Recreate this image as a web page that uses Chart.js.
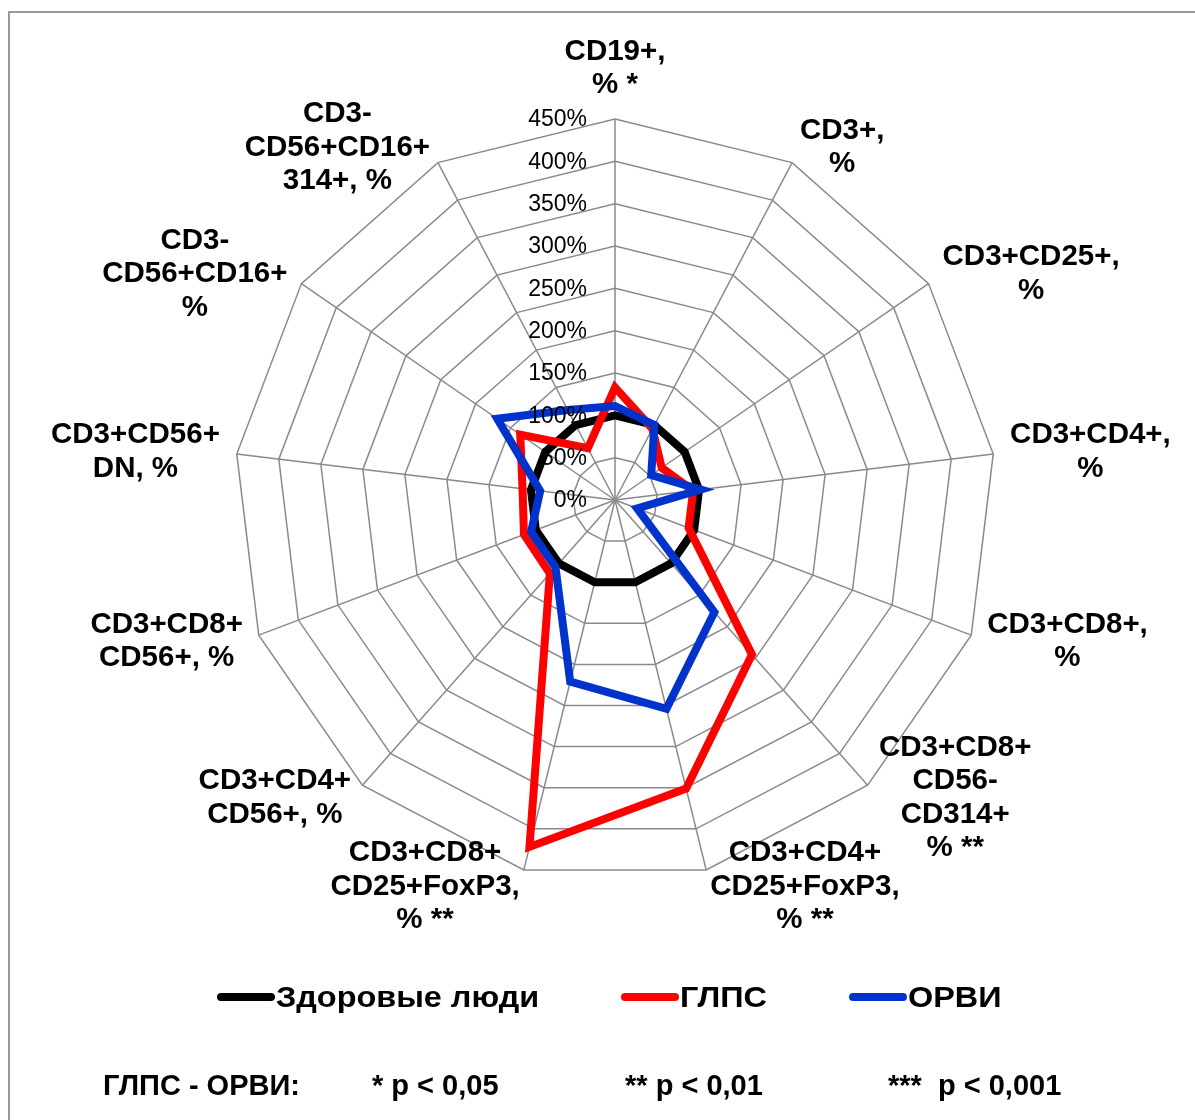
<!DOCTYPE html>
<html>
<head>
<meta charset="utf-8">
<script src="https://cdn.jsdelivr.net/npm/chart.js@4.4.1/dist/chart.umd.min.js"></script>
<style>
  html, body { margin: 0; padding: 0; background: #fff; }
  #wrap { position: relative; width: 1195px; height: 1120px; overflow: hidden;
          font-family: "Liberation Sans", Arial, sans-serif; }
  #frame { position: absolute; left: 8px; top: 11px; width: 1400px; height: 1400px;
           border-top: 2px solid #999; border-left: 2px solid #999; }
  #chart-box { position: absolute; left: 0; top: 0; width: 1195px; height: 1120px; }
  .txt { position: absolute; white-space: nowrap; font-weight: bold; color: #000; line-height: 1; }
  .legend-txt { font-size: 30px; top: 982px; transform: scaleX(1.08); transform-origin: 0 50%; }
  .note { font-size: 29px; top: 1071px; }
  .key { position: absolute; top: 993px; width: 58px; height: 8px; border-radius: 4px; }
</style>
</head>
<body>
<div id="wrap">
  <div id="frame"></div>
  <div id="chart-box"><canvas id="chart-radar"></canvas></div>

  <div class="key" style="left:217px;background:#000000"></div>
  <div class="txt legend-txt" style="left:276px">Здоровые люди</div>
  <div class="key" style="left:621px;background:#ff0000"></div>
  <div class="txt legend-txt" style="left:680px">ГЛПС</div>
  <div class="key" style="left:849px;background:#0033cc"></div>
  <div class="txt legend-txt" style="left:908px">ОРВИ</div>

  <div class="txt note" style="left:103px">ГЛПС - ОРВИ:</div>
  <div class="txt note" style="left:372px">* p &lt; 0,05</div>
  <div class="txt note" style="left:625px">** p &lt; 0,01</div>
  <div class="txt note" style="left:888px">***&nbsp; p &lt; 0,001</div>
</div>

<script>
// axis labels, clockwise from the top
const AXES = [
  ["CD19+,", "% *"],
  ["CD3+,", "%"],
  ["CD3+CD25+,", "%"],
  ["CD3+CD4+,", "%"],
  ["CD3+CD8+,", "%"],
  ["CD3+CD8+", "CD56-", "CD314+", "% **"],
  ["CD3+CD4+", "CD25+FoxP3,", "% **"],
  ["CD3+CD8+", "CD25+FoxP3,", "% **"],
  ["CD3+CD4+", "CD56+, %"],
  ["CD3+CD8+", "CD56+, %"],
  ["CD3+CD56+", "DN, %"],
  ["CD3-", "CD56+CD16+", "%"],
  ["CD3-", "CD56+CD16+", "314+, %"],
];

const HEALTHY = [100, 100, 100, 100, 100, 100, 100, 100, 100, 100, 100, 100, 100];
const GLPS = [133, 95, 67, 93, 93, 244, 351, 422, 116, 115, 110, 136, 69];
const ORVI = [111, 100, 52, 102, 28, 177, 254, 221, 106, 106, 89, 169, 120];

const TICKS = [0, 50, 100, 150, 200, 250, 300, 350, 400, 450];

const GRID = "#8a8a8a";

// ── tick + axis labels drawn Excel-style ───────────────────────────────────
const radarText = {
  id: "radarText",
  afterDraw(chart) {
    const r = chart.scales.r;
    const ctx = chart.ctx;
    ctx.save();
    ctx.fillStyle = "#000";
    ctx.textBaseline = "middle";

    ctx.font = '23px "Liberation Sans", Arial, sans-serif';
    ctx.textAlign = "right";
    TICKS.forEach((v) => {
      const y = r.yCenter - r.getDistanceFromCenterForValue(v);
      ctx.fillText(v + "%", r.xCenter - 28, y + 1);
    });

    ctx.font = 'bold 29.5px "Liberation Sans", Arial, sans-serif';
    ctx.textAlign = "center";
    const lineH = 33.5;
    AXES.forEach((lines, i) => {
      const p = r.getPointPosition(i, r.drawingArea + 17);
      const dx = p.x - r.xCenter;
      const dy = p.y - r.yCenter;
      const w = Math.max(...lines.map((s) => ctx.measureText(s).width));
      const h = lines.length * lineH;
      let cx = p.x;
      let cy = p.y;
      if (dx > 1) cx = p.x + w / 2;
      else if (dx < -1) cx = p.x - w / 2;
      else cy = dy < 0 ? p.y - h / 2 : p.y + h / 2;
      lines.forEach((s, k) => {
        ctx.fillText(s, cx, cy - h / 2 + lineH * (k + 0.5));
      });
    });
    ctx.restore();
  },
};

new Chart(document.getElementById("chart-radar"), {
  type: "radar",
  data: {
    labels: AXES,
    datasets: [
      { label: "Здоровые люди", data: HEALTHY, borderColor: "#000000", order: 3 },
      { label: "ГЛПС", data: GLPS, borderColor: "#ff0000", order: 2 },
      { label: "ОРВИ", data: ORVI, borderColor: "#0033cc", order: 1 },
    ],
  },
  options: {
    responsive: true,
    maintainAspectRatio: false,
    animation: false,
    layout: { padding: { left: 234, top: 119, right: 199, bottom: 239 } },
    elements: {
      line: { borderWidth: 8, tension: 0, fill: false, borderJoinStyle: "miter" },
      point: { radius: 0, hoverRadius: 0 },
    },
    plugins: { legend: { display: false }, tooltip: { enabled: false } },
    scales: {
      r: {
        min: 0,
        max: 450,
        ticks: { stepSize: 50, display: false },
        grid: { color: GRID, lineWidth: 1.5 },
        angleLines: { color: GRID, lineWidth: 1.5 },
        pointLabels: { display: false },
      },
    },
  },
  plugins: [radarText],
});
</script>
</body>
</html>
